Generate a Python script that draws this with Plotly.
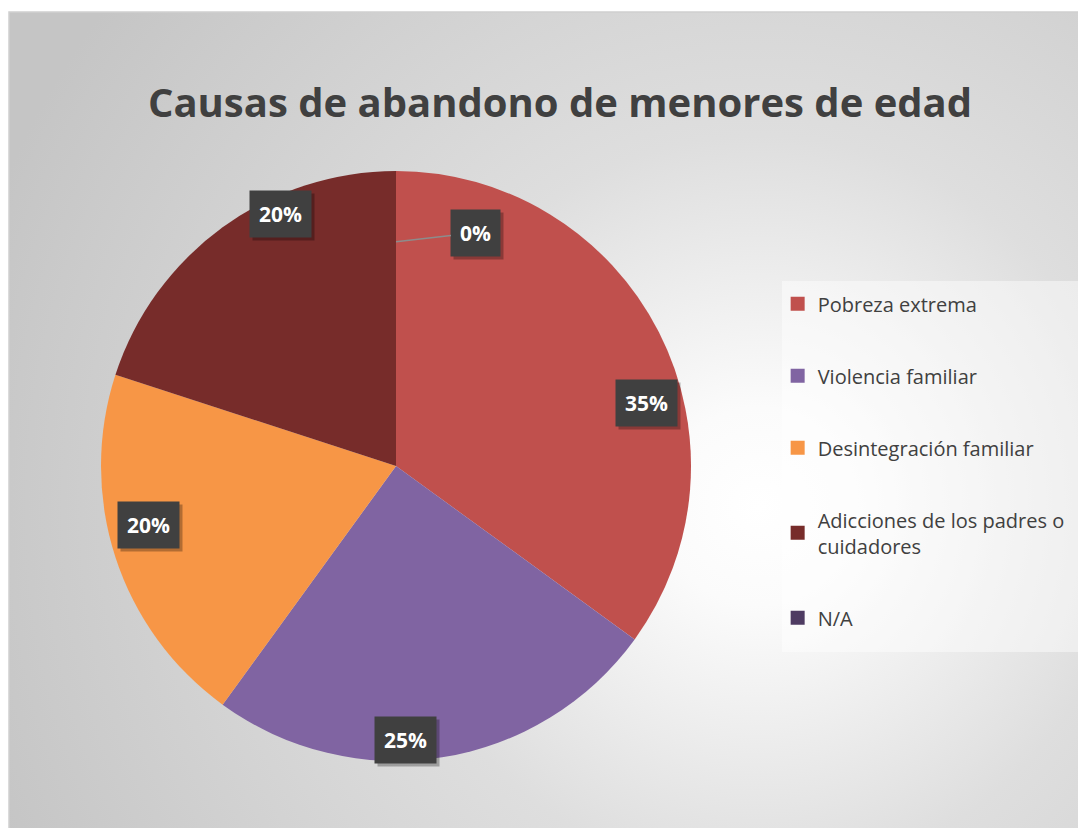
import base64
import math

import plotly.graph_objects as go

# --- data ---
categories = [
    "Pobreza extrema",
    "Violencia familiar",
    "Desintegración familiar",
    "Adicciones de los padres o<br>cuidadores",
    "N/A",
]
percent_values = [35, 25, 20, 20, 0]
slice_colors = ["#C0504D", "#8064A2", "#F79646", "#772C2A", "#4E3B62"]
title_text = "Causas de abandono de menores de edad"

# --- layout constants (pixels, as seen in the browser window) ---
W, H = 1086, 828
PAGE_OFFSET = 8                    # default body margin of the html page
CX, CY, R = 396, 466, 295          # pie centre / radius
# Excel "best fit" placement tweaks for the data labels
label_angle_shift = [13, 7, 4.6, 11.4, 0]
label_radius = [0.876, 0.93, 0.864, 0.94, 0.76]

BOX_BG = "#404040"
TEXT_DARK = "#404040"
LABEL_FONT = "Open Sans"


def px(x, y):
    """window pixel -> paper coords"""
    return (x - PAGE_OFFSET) / W, 1 - (y - PAGE_OFFSET) / H


def background_svg():
    svg = f"""<svg xmlns='http://www.w3.org/2000/svg' width='1077' height='816' viewBox='0 0 1077 816' preserveAspectRatio='none'>
<defs><radialGradient id='g' gradientUnits='userSpaceOnUse' cx='730' cy='480' r='800'>
<stop offset='0' stop-color='#ffffff'/>
<stop offset='0.12' stop-color='#fbfbfb'/>
<stop offset='0.45' stop-color='#dedede'/>
<stop offset='1' stop-color='#c5c5c5'/>
</radialGradient></defs>
<rect width='1077' height='816' fill='url(#g)'/></svg>"""
    return "data:image/svg+xml;base64," + base64.b64encode(svg.encode()).decode()


fig = go.Figure()

x0, y1 = px(CX - R, CY - R)
x1, y0 = px(CX + R, CY + R)
fig.add_trace(
    go.Pie(
        labels=categories,
        values=percent_values,
        marker=dict(colors=slice_colors, line=dict(width=0)),
        sort=False,
        direction="clockwise",
        rotation=0,
        textinfo="none",
        hovertemplate="%{label}: %{percent}<extra></extra>",
        domain=dict(x=[x0, x1], y=[y0, y1]),
        showlegend=False,
    )
)

# legend entries (separate traces so the vertical spacing can be controlled)
for name, color in zip(categories, slice_colors):
    fig.add_trace(
        go.Scatter(
            x=[None], y=[None],
            mode="markers",
            marker=dict(symbol="square", size=14, color=color),
            name=name,
            legendgroup=name,
            showlegend=True,
        )
    )

# --- data labels ---
total = sum(percent_values)
annotations = []
cum = 0
for i, v in enumerate(percent_values):
    mid = (cum + v / 2) / total * 360
    cum += v
    ang = math.radians(mid + label_angle_shift[i])
    r = R * label_radius[i]
    lx, ly = CX + r * math.sin(ang), CY - r * math.cos(ang)
    xp, yp = px(lx, ly)
    text = f"<b>{v / total:.0%}</b>"
    shadow_font = dict(family=LABEL_FONT, size=21, color="rgba(0,0,0,0)")
    label_font = dict(family=LABEL_FONT, size=21, color="white")
    base = dict(xref="paper", yref="paper", x=xp, y=yp, text=text, borderpad=9,
                xanchor="center", yanchor="middle")
    if v == 0:
        # tiny slice: label pulled outside with a leader line
        base.update(showarrow=True, ax=80, ay=-9, arrowhead=0, arrowwidth=1.5)
        annotations.append(dict(base, arrowcolor="rgba(0,0,0,0)",
                                bgcolor="rgba(0,0,0,0.28)", font=shadow_font,
                                xshift=3, yshift=-3))
        annotations.append(dict(base, arrowcolor="#8c8c8c", bgcolor=BOX_BG,
                                font=label_font))
        continue
    base.update(showarrow=False)
    annotations.append(dict(base, bgcolor="rgba(0,0,0,0.28)", xshift=3, yshift=-3,
                            font=shadow_font))
    annotations.append(dict(base, bgcolor=BOX_BG, font=label_font))

lx0, ly1 = px(782, 281)
lx1, ly0 = px(1082, 652)
bx0, by1 = px(9, 12)
tx, ty = px(560, 103)

fig.update_layout(
    width=W,
    height=H,
    margin=dict(l=0, r=0, t=0, b=0),
    paper_bgcolor="white",
    plot_bgcolor="rgba(0,0,0,0)",
    xaxis=dict(visible=False),
    yaxis=dict(visible=False),
    title=dict(
        text=f"<b>{title_text}</b>",
        x=tx, xanchor="center",
        y=ty, yanchor="middle",
        font=dict(family="Open Sans", size=40, color=TEXT_DARK),
    ),
    legend=dict(
        x=lx0 - 0.004, y=ly1 - 0.004,
        xanchor="left", yanchor="top",
        bgcolor="rgba(0,0,0,0)",
        tracegroupgap=43,
        font=dict(family="Open Sans", size=20, color=TEXT_DARK),
        itemsizing="trace",
    ),
    annotations=annotations,
    images=[dict(
        source=background_svg(),
        xref="paper", yref="paper",
        x=bx0, y=by1, sizex=1.02 - bx0, sizey=by1 + 0.02,
        xanchor="left", yanchor="top",
        sizing="stretch", layer="below",
    )],
    shapes=[
        dict(type="rect", xref="paper", yref="paper",
             x0=lx0, x1=lx1, y0=ly0, y1=ly1,
             fillcolor="rgba(255,255,255,0.45)", line=dict(width=0), layer="below"),
        dict(type="rect", xref="paper", yref="paper",
             x0=bx0, x1=1.05, y0=-0.05, y1=by1,
             line=dict(color="#d0d0d0", width=1.5), fillcolor="rgba(0,0,0,0)"),
    ],
)

fig.write_html("out.html")
